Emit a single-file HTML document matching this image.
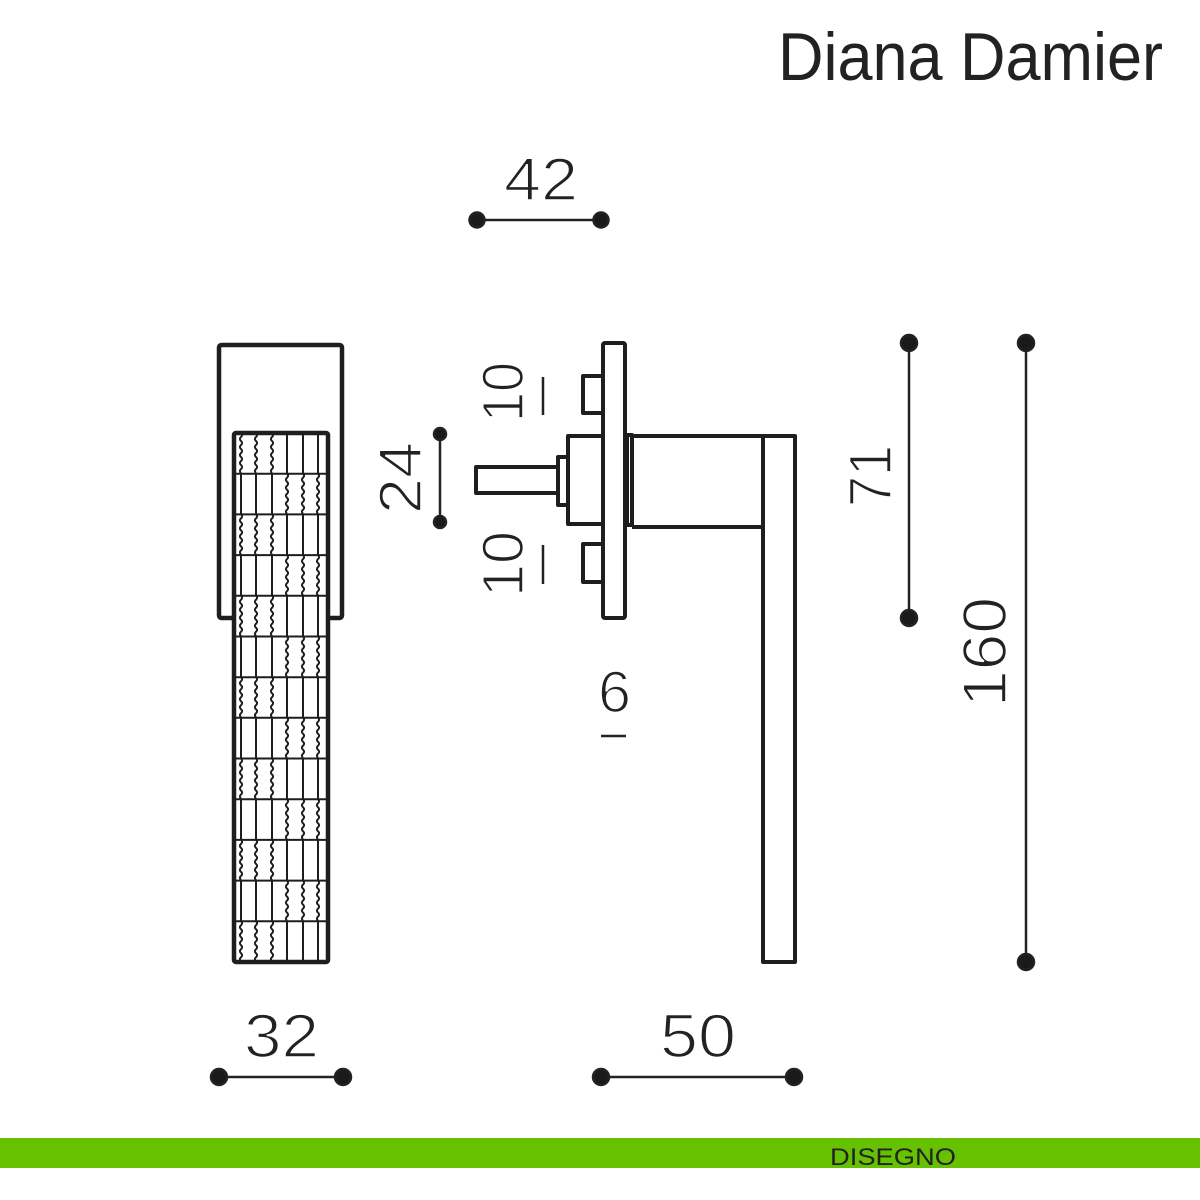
<!DOCTYPE html>
<html><head><meta charset="utf-8"><style>
html,body{margin:0;padding:0;background:#fff;width:1200px;height:1200px;overflow:hidden}
svg{display:block}
text{font-family:"Liberation Sans",sans-serif;fill:#222}
.t{stroke:#fff;stroke-width:1.6;paint-order:fill}
</style></head><body>
<svg id="s" width="1200" height="1200" viewBox="0 0 1200 1200" xmlns="http://www.w3.org/2000/svg">
<text x="778" y="80" font-size="68" textLength="385" lengthAdjust="spacingAndGlyphs" fill="#1a1a1a">Diana Damier</text>
<text class="t" x="504" y="200" font-size="60" textLength="74" lengthAdjust="spacingAndGlyphs">42</text>
<text class="t" x="244" y="1057" font-size="61" textLength="75" lengthAdjust="spacingAndGlyphs">32</text>
<text class="t" x="660" y="1057" font-size="61" textLength="76" lengthAdjust="spacingAndGlyphs">50</text>
<text class="t" transform="translate(523,422) rotate(-90)" font-size="58" textLength="60" lengthAdjust="spacingAndGlyphs">10</text>
<text class="t" transform="translate(523,597) rotate(-90)" font-size="58" textLength="66" lengthAdjust="spacingAndGlyphs">10</text>
<text class="t" transform="translate(421,514) rotate(-90)" font-size="60" textLength="72" lengthAdjust="spacingAndGlyphs">24</text>
<text class="t" transform="translate(891,507) rotate(-90)" font-size="60" textLength="62" lengthAdjust="spacingAndGlyphs">71</text>
<text class="t" transform="translate(1006,707) rotate(-90)" font-size="62" textLength="110" lengthAdjust="spacingAndGlyphs">160</text>
<text class="t" x="598" y="712" font-size="58" textLength="33" lengthAdjust="spacingAndGlyphs">6</text>
<g stroke="#222" stroke-width="2.5">
<line x1="601" y1="736" x2="626" y2="736"/>
<line x1="543" y1="377" x2="543" y2="415"/>
<line x1="543" y1="545" x2="543" y2="584"/>
</g>
<g stroke="#222" stroke-width="2.5" fill="#1a1a1a">
<line x1="477" y1="220" x2="601" y2="220"/><circle cx="477" cy="220" r="7.5"/><circle cx="601" cy="220" r="7.5"/>
<line x1="219" y1="1077" x2="343" y2="1077"/><circle cx="219" cy="1077" r="8"/><circle cx="343" cy="1077" r="8"/>
<line x1="601" y1="1077" x2="794" y2="1077"/><circle cx="601" cy="1077" r="8"/><circle cx="794" cy="1077" r="8"/>
<line x1="440" y1="434" x2="440" y2="522"/><circle cx="440" cy="434" r="6"/><circle cx="440" cy="522" r="6"/>
<line x1="909" y1="343" x2="909" y2="618"/><circle cx="909" cy="343" r="8"/><circle cx="909" cy="618" r="8"/>
<line x1="1026" y1="343" x2="1026" y2="962"/><circle cx="1026" cy="343" r="8"/><circle cx="1026" cy="962" r="8"/>
</g>
<g fill="none" stroke="#1e1e1e" stroke-width="4.5" stroke-linejoin="round">
<path d="M234 618 H222 Q219 618 219 615 V348 Q219 345 222 345 H339 Q342 345 342 348 V615 Q342 618 339 618 H328"/>
<rect x="234" y="433" width="94" height="529" rx="2"/>
</g>
<g id="grid" fill="none" stroke="#1e1e1e" stroke-width="2"></g>
<g fill="none" stroke="#1e1e1e" stroke-width="4" stroke-linejoin="round">
<rect x="603" y="343" width="22" height="275" rx="2"/>
<path d="M603 376 H583 V413 H603"/>
<path d="M603 544 H583 V582 H603"/>
<path d="M603 436 H568 V524 H603"/>
<path d="M568 457 H558 V505 H568"/>
<path d="M558 467 H476 V493 H558"/>
<path d="M627 435 H632 V525 H627 Z"/>
<path d="M632 436 H795 V962 H763 V527 H632"/>
<line x1="763" y1="436" x2="763" y2="527"/>
</g>
<rect x="0" y="1138" width="1200" height="30" fill="#66c100"/>
<text x="830" y="1165" font-size="24" textLength="126" lengthAdjust="spacingAndGlyphs" fill="#111">DISEGNO</text>
</svg>
<script>
(function(){
var g=document.getElementById('grid'),ns='http://www.w3.org/2000/svg';
var top=433,bot=962,rh=(bot-top)/13;
var L=[241,256,272],R=[287,303,318];
function wavy(x,y1,y2){var d='M'+x+' '+y1.toFixed(1),s=1;for(var y=y1+4;y<=y2;y+=4){d+=' Q'+(x+s*2.2)+' '+(y-2).toFixed(1)+' '+x+' '+y.toFixed(1);s=-s;}return d;}
var d='';
for(var i=0;i<13;i++){
 var y1=top+i*rh,y2=y1+rh;
 if(i>0) d+=' M234 '+y1.toFixed(1)+' H328';
 var w=(i%2==0)?L:R, st=(i%2==0)?R:L;
 w.forEach(function(x){d+=' '+wavy(x,y1,y2);});
 st.forEach(function(x){d+=' M'+x+' '+y1.toFixed(1)+' V'+y2.toFixed(1);});
}
var p=document.createElementNS(ns,'path');p.setAttribute('d',d);g.appendChild(p);
})();
</script>
</body></html>
